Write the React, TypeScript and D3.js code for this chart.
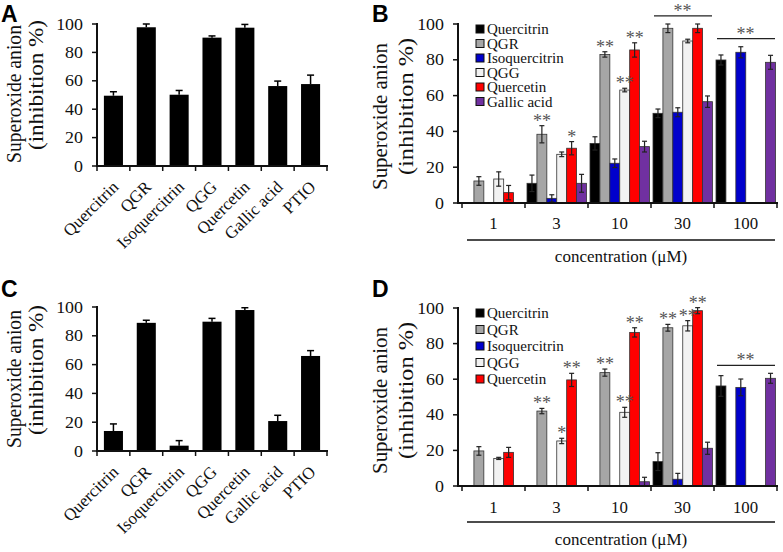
import React from 'react';
import * as d3 from 'd3';

const W = 783, H = 552;
const SERIF = '"Liberation Serif", "Times New Roman", Times, serif';
const SANS = '"Liberation Sans", Arial, sans-serif';

// Panels A & C (single concentration)
const compounds = ["Quercitrin", "QGR", "Isoquercitrin", "QGG", "Quercetin", "Gallic acid", "PTIO"];
const valuesA = [49.5, 97.7, 50.2, 90.4, 97.4, 56.3, 57.7];
const errorsA = [2.8, 2.3, 3.0, 1.2, 2.3, 3.5, 6.3];
const valuesC = [13.9, 89.0, 3.7, 89.8, 97.9, 20.8, 66.0];
const errorsC = [4.9, 1.8, 3.5, 2.3, 1.6, 4.0, 3.7];

// Panels B & D (concentration series)
const concentrations = ["1", "3", "10", "30", "100"];
const seriesNames = ["Quercitrin", "QGR", "Isoquercitrin", "QGG", "Quercetin", "Gallic acid"];
const seriesColors = ["#000000", "#a6a6a6", "#0000cc", "#f2f2f2", "#ff0000", "#7030a0"];

const quercitrinB = [null, 11.0, 33.3, 50.1, 79.9];
const quercitrinBErr = [0, 4.6, 3.7, 2.4, 2.8];
const qgrB = [12.3, 38.4, 83.0, 97.6, null];
const qgrBErr = [2.4, 4.8, 1.5, 2.4, 0];
const isoB = [null, 2.6, 22.2, 50.7, 84.2];
const isoBErr = [0, 2.0, 2.4, 2.5, 3.1];
const qggB = [13.4, 27.2, 63.1, 90.5, null];
const qggBErr = [4.0, 1.3, 1.0, 1.0, 0];
const quercetinB = [5.8, 30.6, 85.5, 97.6, null];
const quercetinBErr = [4.0, 3.7, 4.0, 2.4, 0];
const gallicB = [null, 11.0, 31.5, 56.6, 78.6];
const gallicBErr = [0, 5.0, 3.0, 3.2, 3.9];

const quercitrinD = [null, null, null, 13.7, 56.2];
const quercitrinDErr = [0, 0, 0, 5.0, 5.8];
const qgrD = [19.7, 42.1, 63.7, 88.9, null];
const qgrDErr = [2.4, 1.5, 2.0, 1.9, 0];
const isoD = [null, null, null, 3.8, 55.4];
const isoDErr = [0, 0, 0, 3.3, 4.7];
const qggD = [15.5, 25.3, 41.4, 90.0, null];
const qggDErr = [0.6, 1.5, 2.8, 2.9, 0];
const quercetinD = [18.9, 59.6, 86.3, 98.5, null];
const quercetinDErr = [2.8, 3.7, 2.6, 1.7, 0];
const gallicD = [null, null, 2.4, 21.2, 60.5];
const gallicDErr = [0, 0, 2.5, 3.4, 2.8];

// significance marks: [group index, series index, label]
const marksB: [number, number, string][] = [[1, 1, "**"], [1, 4, "*"], [2, 1, "**"], [2, 3, "**"], [2, 4, "**"]];
const bracketsB: [number, string][] = [[3, "**"], [4, "**"]];
const marksD: [number, number, string][] = [[1, 1, "**"], [1, 3, "*"], [1, 4, "**"], [2, 1, "**"], [2, 3, "**"], [2, 4, "**"], [3, 1, "**"], [3, 3, "**"], [3, 4, "**"]];
const bracketsD: [number, string][] = [[4, "**"]];

const yTicks = [0, 20, 40, 60, 80, 100];

type Series = { values: (number | null)[]; errors: number[] };
const dataB: Series[] = [
  { values: quercitrinB, errors: quercitrinBErr },
  { values: qgrB, errors: qgrBErr },
  { values: isoB, errors: isoBErr },
  { values: qggB, errors: qggBErr },
  { values: quercetinB, errors: quercetinBErr },
  { values: gallicB, errors: gallicBErr },
];
const dataD: Series[] = [
  { values: quercitrinD, errors: quercitrinDErr },
  { values: qgrD, errors: qgrDErr },
  { values: isoD, errors: isoDErr },
  { values: qggD, errors: qggDErr },
  { values: quercetinD, errors: quercetinDErr },
  { values: gallicD, errors: gallicDErr },
];

function T({ x, y, size, anchor = 'start', sx = 1, rotate = 0, family = SERIF, weight = 'normal', fill = '#111', children, len }: any) {
  const extra = len ? { textLength: len, lengthAdjust: 'spacingAndGlyphs' } : {};
  return (
    <text transform={`translate(${x},${y}) rotate(${rotate}) scale(${sx},1)`} fontSize={size} textAnchor={anchor}
      fontFamily={family} fontWeight={weight} fill={fill} {...extra}>{children}</text>
  );
}

function YAxis({ x, y }: { x: number; y: d3.ScaleLinear<number, number> }) {
  return (
    <g>
      <line x1={x} x2={x} y1={y(100) - 1} y2={y(0) + 1} stroke="#111" strokeWidth={2} />
      {yTicks.map(t => (
        <g key={t}>
          <line x1={x - 5} x2={x} y1={y(t)} y2={y(t)} stroke="#111" strokeWidth={1.5} />
          <T x={x - 14} y={y(t) + 5.5} size={16} sx={1.12} anchor="end">{t}</T>
        </g>
      ))}
    </g>
  );
}

// y label: two rotated lines, each given by baseline x, bottom and top y
function YLabel({ l1, l2, second, size }: { l1: number[]; l2: number[]; second: string; size: number }) {
  return (
    <g>
      <T x={l1[0]} y={l1[1]} size={size} rotate={-90} len={l1[1] - l1[2]}>Superoxide anion</T>
      <T x={l2[0]} y={l2[1]} size={size} rotate={-90} len={l2[1] - l2[2]}>{second}</T>
    </g>
  );
}

function SinglePanel({ values, errors, top, bottom, letter, off, letterY }: { values: number[]; errors: number[]; top: number; bottom: number; letter: string; off: number; letterY: number }) {
  const x0 = 97, x1 = 327;
  const x = d3.scaleBand<string>().domain(compounds).range([x0, x1]).paddingInner(0.42).paddingOuter(0.21);
  const y = d3.scaleLinear().domain([0, 100]).range([bottom, top]);
  const step = x.step();
  const bounds = d3.range(compounds.length + 1).map(i => x0 + i * step);
  return (
    <g>
      <T x={1} y={letterY} size={23} family={SANS} weight="bold" fill="#000">{letter}</T>
      <YLabel l1={[21, off + 163, off + 25]} l2={[43, off + 150, off + 20]} second="(inhibition %)" size={20} />
      {compounds.map((c, i) => {
        const bx = x(c)!;
        const bw = x.bandwidth();
        const cx = bx + bw / 2;
        const yt = y(values[i]);
        const ye = y(values[i] + errors[i]);
        return (
          <g key={c}>
            <rect x={bx} y={yt} width={bw} height={y(0) - yt} fill="#000" />
            <line x1={cx} x2={cx} y1={yt} y2={ye} stroke="#000" strokeWidth={1.5} />
            <line x1={cx - 3.5} x2={cx + 3.5} y1={ye} y2={ye} stroke="#000" strokeWidth={1.5} />
            <T x={cx + 6} y={bottom + 22} size={17} rotate={-45} anchor="end">{c}</T>
          </g>
        );
      })}
      <YAxis x={x0} y={y} />
      <line x1={x0 - 1} x2={x1 + 1} y1={bottom} y2={bottom} stroke="#111" strokeWidth={2} />
      {bounds.map((b, i) => (
        <line key={i} x1={b} x2={b} y1={bottom} y2={bottom + 5} stroke="#111" strokeWidth={1.5} />
      ))}
    </g>
  );
}

function GroupPanel({ data, top, bottom, letter, letterY, legendCount, legendTop, legendStep, marks, brackets, second, labelY, lineY, titleY, off }: any) {
  const ax = 458, gx0 = 462, gx1 = 777;
  const g = d3.scaleBand<string>().domain(concentrations).range([gx0, gx1]).padding(0);
  const s = d3.scaleBand<number>().domain(d3.range(seriesNames.length)).range([2, g.bandwidth() - 1.5]).padding(0);
  const y = d3.scaleLinear().domain([0, 100]).range([bottom, top]);
  const bounds = d3.range(concentrations.length + 1).map(i => gx0 + i * g.step());
  const bw = s.bandwidth();
  return (
    <g>
      <T x={372} y={letterY} size={23} family={SANS} weight="bold" fill="#000">{letter}</T>
      <YLabel l1={[387, off + 190, off + 43]} l2={[413, off + 175, off + 38]} second={second} size={21} />
      {data.map((ser: Series, si: number) => ser.values.map((v, gi) => {
        if (v == null) return null;
        const bx = g(concentrations[gi])! + s(si)!;
        const cx = bx + bw / 2;
        const yt = y(v);
        const e = ser.errors[gi];
        return (
          <g key={`${si}-${gi}`}>
            <rect x={bx} y={yt} width={bw} height={y(0) - yt} fill={seriesColors[si]} stroke="#333" strokeWidth={0.8} />
            <line x1={cx} x2={cx} y1={y(v - e)} y2={y(v + e)} stroke="#222" strokeWidth={1.2} />
            <line x1={cx - 2.5} x2={cx + 2.5} y1={y(v + e)} y2={y(v + e)} stroke="#222" strokeWidth={1.2} />
            <line x1={cx - 2.5} x2={cx + 2.5} y1={y(v - e)} y2={y(v - e)} stroke="#222" strokeWidth={1.2} />
          </g>
        );
      }))}
      {marks.map(([gi, si, lab]: [number, number, string], k: number) => {
        const v = data[si].values[gi] as number;
        const e = data[si].errors[gi];
        const cx = g(concentrations[gi])! + s(si)! + bw / 2;
        return <T key={k} x={cx} y={y(v + e) + 1} size={18} anchor="middle" fill="#555">{lab}</T>;
      })}
      {brackets.map(([gi, lab]: [number, string], k: number) => {
        const tops = data.map((ser: Series) => ser.values[gi] == null ? 0 : (ser.values[gi] as number) + ser.errors[gi]);
        const ly = y((d3.max(tops) as number) + 4.5);
        const gs = g(concentrations[gi])!;
        return (
          <g key={k}>
            <line x1={gs + 3} x2={gs + g.bandwidth() - 2} y1={ly} y2={ly} stroke="#222" strokeWidth={1.2} />
            <T x={gs + g.bandwidth() / 2} y={ly + 1} size={18} anchor="middle" fill="#555">{lab}</T>
          </g>
        );
      })}
      <YAxis x={ax} y={y} />
      <line x1={ax - 1} x2={gx1 + 1} y1={bottom} y2={bottom} stroke="#111" strokeWidth={2} />
      {bounds.map((b, i) => (
        <line key={i} x1={b} x2={b} y1={bottom} y2={bottom + 5} stroke="#111" strokeWidth={1.5} />
      ))}
      {concentrations.map(c => (
        <T key={c} x={g(c)! + g.bandwidth() / 2} y={labelY} size={16} sx={1.05} anchor="middle">{c}</T>
      ))}
      <line x1={467} x2={775} y1={lineY} y2={lineY} stroke="#111" strokeWidth={1.5} />
      <T x={621} y={titleY} size={17} anchor="middle">concentration (μM)</T>
      {seriesNames.slice(0, legendCount).map((n, i) => {
        const ly = legendTop + i * legendStep;
        return (
          <g key={n}>
            <rect x={476} y={ly - 4} width={8} height={8} fill={seriesColors[i]} stroke="#111" strokeWidth={1} />
            <T x={487} y={ly + 5} size={15}>{n}</T>
          </g>
        );
      })}
    </g>
  );
}

export default function App() {
  return (
    <svg width={W} height={H} viewBox={`0 0 ${W} ${H}`} style={{ position: 'absolute', left: 0, top: 0, background: '#fff' }}>
      <rect width={W} height={H} fill="#fff" />
      <SinglePanel values={valuesA} errors={errorsA} top={24} bottom={166} letter="A" off={0} letterY={22} />
      <SinglePanel values={valuesC} errors={errorsC} top={307} bottom={451} letter="C" off={285} letterY={297} />
      <GroupPanel data={dataB} top={24} bottom={203} letter="B" letterY={22} legendCount={6} legendTop={29} legendStep={14.5}
        marks={marksB} brackets={bracketsB} second="(inhibition %)" labelY={229} lineY={240} titleY={262} off={0} />
      <GroupPanel data={dataD} top={308} bottom={486} letter="D" letterY={297} legendCount={5} legendTop={313} legendStep={16.5}
        marks={marksD} brackets={bracketsD} second="(inhibition  %)" labelY={513} lineY={522} titleY={545} off={284} />
    </svg>
  );
}
